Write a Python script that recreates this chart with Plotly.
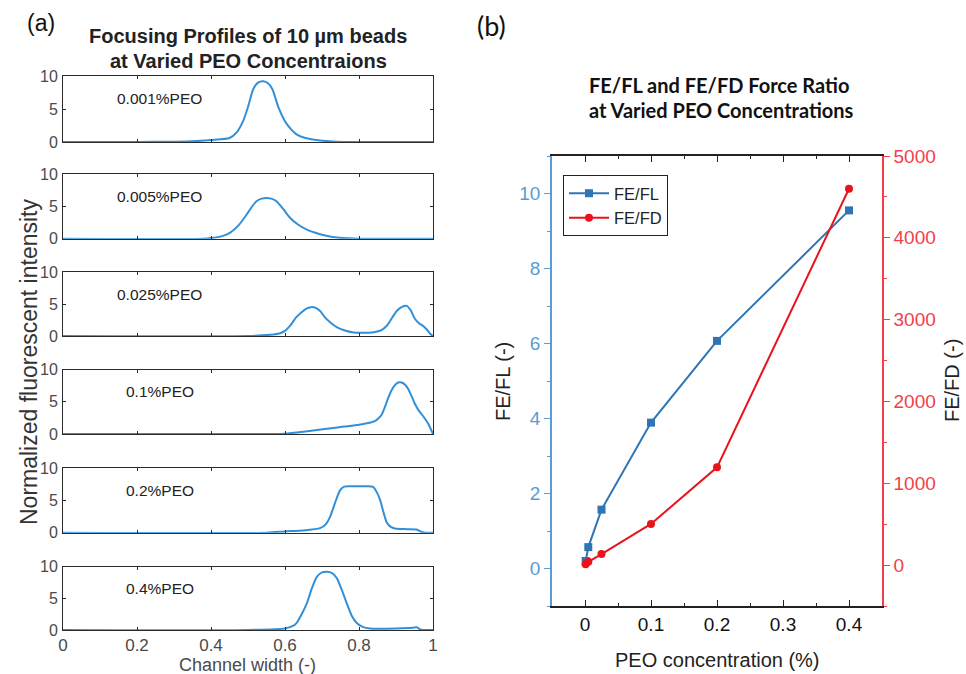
import plotly.graph_objects as go

W, H = 966, 674

# ---------------- data: panel (a) profiles ----------------
conc_labels = ["0.001%PEO", "0.005%PEO", "0.025%PEO", "0.1%PEO", "0.2%PEO", "0.4%PEO"]

p0001_x = [0, 0.2, 0.3, 0.35, 0.40, 0.45, 0.47, 0.487, 0.50, 0.514, 0.527, 0.541, 0.554, 0.566, 0.582, 0.605, 0.63, 0.655, 0.68, 0.72, 0.76, 1.0]
p0001_y = [0, 0, 0.05, 0.1, 0.3, 0.6, 1.5, 3.2, 5.3, 8.0, 9.0, 9.2, 8.9, 8.0, 5.3, 2.7, 1.2, 0.6, 0.35, 0.1, 0, 0]

p0005_x = [0, 0.38, 0.40, 0.43, 0.451, 0.475, 0.496, 0.51, 0.523, 0.537, 0.55, 0.563, 0.577, 0.595, 0.614, 0.635, 0.659, 0.68, 0.70, 0.725, 0.746, 0.80, 1.0]
p0005_y = [0, 0, 0.1, 0.4, 0.9, 2.1, 3.7, 4.9, 5.8, 6.2, 6.3, 6.2, 5.8, 4.6, 3.2, 2.2, 1.4, 0.95, 0.6, 0.3, 0.15, 0, 0]

p0025_x = [0, 0.5, 0.56, 0.585, 0.60, 0.615, 0.63, 0.645, 0.659, 0.67, 0.681, 0.695, 0.708, 0.725, 0.74, 0.76, 0.785, 0.81, 0.84, 0.86, 0.875, 0.89, 0.902, 0.915, 0.929, 0.94, 0.951, 0.962, 0.975, 0.985, 0.993, 1.0]
p0025_y = [0, 0, 0.2, 0.4, 0.8, 1.7, 2.9, 3.7, 4.3, 4.5, 4.45, 3.9, 2.9, 2.0, 1.4, 0.9, 0.55, 0.5, 0.6, 0.9, 1.6, 2.9, 3.9, 4.5, 4.7, 4.0, 2.7, 2.0, 1.5, 0.9, 0.3, 0]

p01_x = [0, 0.55, 0.6, 0.65, 0.713, 0.76, 0.80, 0.825, 0.843, 0.852, 0.861, 0.87, 0.879, 0.888, 0.897, 0.906, 0.915, 0.924, 0.933, 0.942, 0.951, 0.962, 0.973, 0.986, 1.0]
p01_y = [0, 0, 0.05, 0.35, 0.8, 1.15, 1.45, 1.7, 2.0, 2.4, 3.0, 4.2, 5.6, 6.8, 7.6, 8.0, 8.0, 7.7, 7.0, 5.9, 4.7, 3.6, 2.8, 1.7, 0]

p02_x = [0, 0.55, 0.60, 0.65, 0.695, 0.71, 0.722, 0.735, 0.749, 0.76, 0.775, 0.80, 0.82, 0.838, 0.848, 0.857, 0.866, 0.875, 0.886, 0.897, 0.93, 0.956, 0.969, 0.98, 1.0]
p02_y = [0, 0, 0.2, 0.35, 0.7, 1.3, 2.5, 4.6, 6.6, 7.15, 7.2, 7.2, 7.2, 7.1, 6.3, 5.1, 3.2, 1.6, 0.9, 0.65, 0.55, 0.5, 0.1, 0, 0]

p04_x = [0, 0.5, 0.6, 0.62, 0.631, 0.645, 0.659, 0.672, 0.686, 0.70, 0.713, 0.727, 0.74, 0.753, 0.767, 0.78, 0.794, 0.81, 0.83, 0.9, 0.945, 0.956, 0.965, 0.975, 1.0]
p04_y = [0, 0, 0.25, 0.6, 1.1, 2.5, 4.2, 6.5, 8.4, 9.1, 9.2, 9.0, 8.2, 6.4, 4.2, 2.3, 1.1, 0.5, 0.25, 0.25, 0.35, 0.45, 0.1, 0, 0]

profiles_x = [p0001_x, p0005_x, p0025_x, p01_x, p02_x, p04_x]
profiles_y = [p0001_y, p0005_y, p0025_y, p01_y, p02_y, p04_y]

x_ticks_a = [0, 0.2, 0.4, 0.6, 0.8, 1]
x_ticktext_a = ["0", "0.2", "0.4", "0.6", "0.8", "1"]
y_ticks_a = [0, 5, 10]

# ---------------- data: panel (b) ----------------
peo_conc = [0.001, 0.005, 0.025, 0.1, 0.2, 0.4]
fe_fl = [0.2, 0.57, 1.57, 3.89, 6.07, 9.55]
fe_fd = [10, 40, 135, 503, 1195, 4600]

x_ticks_b = [0, 0.1, 0.2, 0.3, 0.4]
yl_ticks_b = [0, 2, 4, 6, 8, 10]
yr_ticks_b = [0, 1000, 2000, 3000, 4000, 5000]


def px_x(p):
    return p / W


def px_y(p):
    return 1 - p / H


fig = go.Figure()

# panel (a) geometry
a_left, a_right = 63, 433
box_tops = [76, 174, 272, 369.7, 468.3, 566.7]
box_bots = [142, 238.7, 336, 434, 532.7, 630]
label_x = [115, 115, 115, 124, 124, 124]

line_blue = "#3190D8"
box_col = "#2b2b2b"
lab_col = "#4a4a4a"
FA = "Liberation Sans, Arial"

layout_axes = {}
annots = []
for i in range(6):
    n = i + 1
    xa = "x" if n == 1 else f"x{n}"
    ya = "y" if n == 1 else f"y{n}"
    fig.add_trace(go.Scatter(
        x=profiles_x[i], y=profiles_y[i], mode="lines",
        line=dict(color=line_blue, width=2, shape="spline", smoothing=0.6),
        xaxis=xa, yaxis=ya, showlegend=False, hoverinfo="skip"))
    xkey = "xaxis" if n == 1 else f"xaxis{n}"
    ykey = "yaxis" if n == 1 else f"yaxis{n}"
    layout_axes[xkey] = dict(
        domain=[px_x(a_left), px_x(a_right)], anchor=ya, range=[0, 1], automargin=False,
        tickvals=x_ticks_a, ticktext=x_ticktext_a, showticklabels=(n == 6),
        ticks="inside", ticklen=3, tickcolor=box_col, mirror="ticks",
        showline=True, linecolor=box_col, linewidth=1, showgrid=False, zeroline=False,
        tickfont=dict(family=FA, size=17, color=lab_col))
    layout_axes[ykey] = dict(
        domain=[px_y(box_bots[i]), px_y(box_tops[i])], anchor=xa, range=[0, 10], automargin=False,
        tickvals=y_ticks_a, ticks="inside", ticklen=3, tickcolor=box_col, mirror="ticks",
        showline=True, linecolor=box_col, linewidth=1, showgrid=False, zeroline=False,
        ticklabelstandoff=1,
        tickfont=dict(family=FA, size=16, color=lab_col))
    annots.append(dict(
        x=px_x(label_x[i]), y=px_y(box_tops[i] + 22), xref="paper", yref="paper",
        text=conc_labels[i], showarrow=False, xanchor="left", yanchor="middle",
        font=dict(family=FA, size=15.5, color="#222")))

# panel (b)
b_left, b_right, b_top, b_bot = 552, 882, 156, 606
blue_dark = "#2E75B6"
blue_axis = "#5B9BD5"
red_line = "#E8141C"
red_axis = "#F2404A"

fig.add_trace(go.Scatter(
    x=peo_conc, y=fe_fl, mode="lines+markers", name="FE/FL",
    line=dict(color=blue_dark, width=2), marker=dict(symbol="square", size=8, color=blue_dark),
    xaxis="x7", yaxis="y7"))
fig.add_trace(go.Scatter(
    x=peo_conc, y=fe_fd, mode="lines+markers", name="FE/FD",
    line=dict(color=red_line, width=2), marker=dict(symbol="circle", size=8, color=red_line),
    xaxis="x7", yaxis="y8"))

tick_font_b = dict(family=FA, size=19)
layout_axes["xaxis7"] = dict(
    domain=[px_x(b_left), px_x(b_right)], anchor="y7", range=[-0.05, 0.45], automargin=False,
    tickvals=x_ticks_b, ticktext=["0", "0.1", "0.2", "0.3", "0.4"],
    ticks="inside", ticklen=6, tickcolor="#222", mirror="ticks",
    minor=dict(ticks="inside", ticklen=3, dtick=0.05, tick0=0, tickcolor="#222"),
    showline=True, linecolor="#222", linewidth=1.5, showgrid=False, zeroline=False,
    tickfont=dict(color="#111", **tick_font_b))
layout_axes["yaxis7"] = dict(
    domain=[px_y(b_bot), px_y(b_top)], anchor="x7", range=[-1, 11], automargin=False,
    tickvals=yl_ticks_b, ticks="outside", ticklen=6, tickcolor=blue_axis,
    minor=dict(ticks="outside", ticklen=3, dtick=1, tick0=1, tickcolor=blue_axis),
    showline=True, linecolor=blue_axis, linewidth=1.5, showgrid=False, zeroline=False,
    tickfont=dict(color=blue_axis, **tick_font_b))
layout_axes["yaxis8"] = dict(
    overlaying="y7", side="right", anchor="x7", range=[-500, 5000], automargin=False,
    tickvals=yr_ticks_b, ticks="outside", ticklen=6, tickcolor=red_axis,
    minor=dict(ticks="outside", ticklen=3, dtick=500, tick0=500, tickcolor=red_axis),
    showline=True, linecolor=red_axis, linewidth=1.5, showgrid=False, zeroline=False,
    tickfont=dict(color=red_axis, **tick_font_b))

# text annotations
annots += [
    dict(x=px_x(41), y=px_y(23), text="(a)", font=dict(family=FA, size=23, color="#111")),
    dict(x=px_x(248), y=px_y(36), text="<b>Focusing Profiles of 10 µm beads</b>",
         font=dict(family=FA, size=20, color="#222")),
    dict(x=px_x(248), y=px_y(61), text="<b>at Varied PEO Concentraions</b>",
         font=dict(family=FA, size=20, color="#222")),
    dict(x=px_x(29), y=px_y(362), text="Normalized fluorescent intensity", textangle=-90,
         font=dict(family=FA, size=23, color="#333")),
    dict(x=px_x(247), y=px_y(665), text="Channel width (-)",
         font=dict(family=FA, size=18, color=lab_col)),
    dict(x=px_x(492), y=px_y(25), text="(b)", font=dict(family="Lato", size=27, color="#111")),
    dict(x=px_x(587), y=px_y(85), text="<b>FE/FL and FE/FD Force Ratio</b>", xanchor="left",
         font=dict(family="Lato", size=20, color="#111")),
    dict(x=px_x(587), y=px_y(110), text="<b>at Varied PEO Concentrations</b>", xanchor="left",
         font=dict(family="Lato", size=20, color="#111")),
    dict(x=px_x(717), y=px_y(660), text="PEO concentration (%)",
         font=dict(family=FA, size=20, color="#222")),
    dict(x=px_x(503), y=px_y(381), text="FE/FL (-)", textangle=-90,
         font=dict(family=FA, size=20, color="#222")),
    dict(x=px_x(952), y=px_y(381), text="FE/FD (-)", textangle=-90,
         font=dict(family=FA, size=20, color="#222")),
]
for a in annots:
    a.setdefault("xref", "paper")
    a.setdefault("yref", "paper")
    a.setdefault("showarrow", False)
    a.setdefault("xanchor", "center")
    a.setdefault("yanchor", "middle")

fig.update_layout(
    width=W, height=H, margin=dict(l=0, r=0, t=0, b=0, autoexpand=False),
    paper_bgcolor="white", plot_bgcolor="white",
    annotations=annots,
    legend=dict(x=px_x(563), y=px_y(175), xanchor="left", yanchor="top",
                bordercolor="#222", borderwidth=1, bgcolor="white",
                font=dict(family=FA, size=16.5, color="#222"),
                tracegroupgap=0, itemwidth=40),
    **layout_axes,
)

fig.write_html("out.html")
